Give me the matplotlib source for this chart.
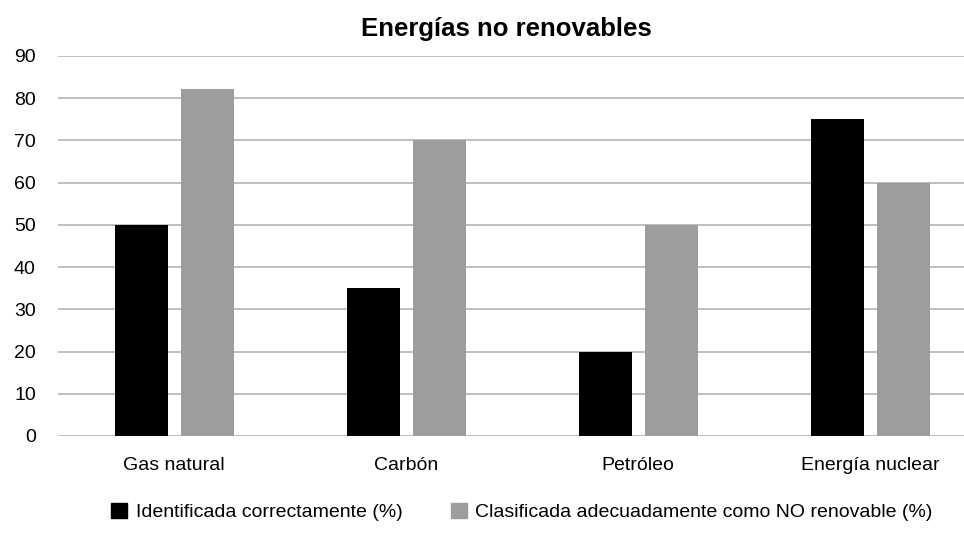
import numpy as np
import matplotlib
matplotlib.use("Agg")
import matplotlib.pyplot as plt
from matplotlib.patches import Patch

## energy sources and the two survey percentages
categories = ["Gas natural", "Carbón", "Petróleo", "Energía nuclear"]
identificada = [50, 35, 20, 75]
clasificada = [82.3, 70, 50, 60]
series_names = ["Identificada correctamente (%)",
                "Clasificada adecuadamente como NO renovable (%)"]
yticks = list(range(0, 100, 10))

plt.rcParams["font.family"] = ["Liberation Sans", "DejaVu Sans"]

black = "#000000"
grey = "#9d9d9c"

fig = plt.figure(figsize=(9.64, 5.5), dpi=100)
ax = fig.add_axes([58/964, 114/550, 906/964, 380/550])

x = np.arange(len(categories))
w = 0.228
ax.bar(x - 0.14, identificada, w, color=black, zorder=3)
ax.bar(x + 0.143, clasificada, w, color=grey, zorder=3)

ax.set_xlim(-0.5, 3.405)
ax.set_ylim(0, 90)
ax.set_yticks(yticks)
ax.set_xticks(x)
ax.set_xticklabels(categories)
ax.grid(axis="y", color="#b9b9b9", linewidth=1.3, zorder=0)
ax.tick_params(axis="y", length=0, pad=16, labelsize=14)
ax.tick_params(axis="x", length=0, pad=15, labelsize=14)
for s in ax.spines.values():
    s.set_visible(False)

fig.text(506/964, 1 - 29/550, "Energías no renovables", ha="center", va="center",
         fontsize=18.5, fontweight="bold")

handles = [Patch(color=black), Patch(color=grey)]
fig.legend(handles, series_names, loc="center", bbox_to_anchor=(522/964, 1 - 512/550),
           ncol=2, frameon=False, fontsize=14, handlelength=0.8, handleheight=0.8,
           handletextpad=0.45, columnspacing=2.5)

fig.savefig("out.png", dpi=100)
